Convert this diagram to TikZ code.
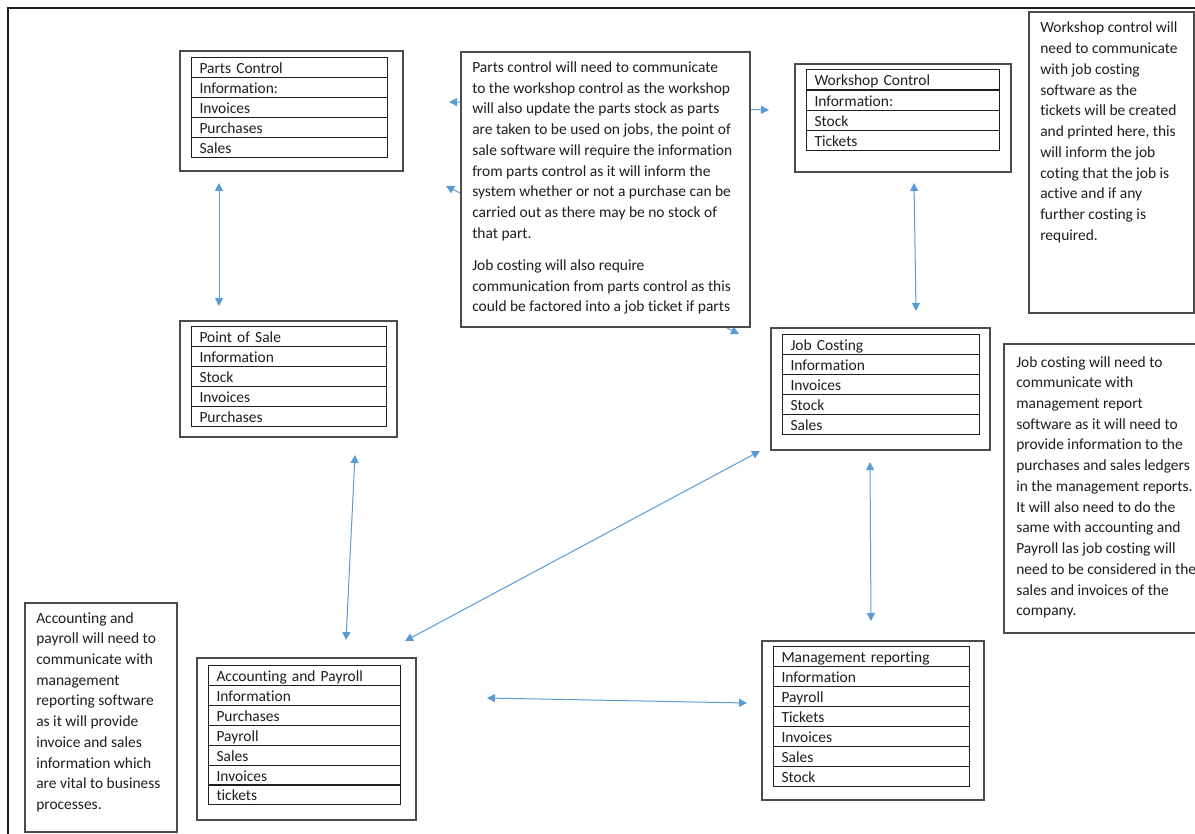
\documentclass[tikz,border=0pt]{standalone}
\usepackage{fontspec}
\setmainfont{Carlito}[Ligatures=CommonOff]
\usetikzlibrary{arrows.meta}
\definecolor{linkblue}{HTML}{5B9BD5}
\definecolor{ink}{HTML}{1E1E1E}

\begin{document}
\begin{tikzpicture}[x=0.75pt, y=-0.75pt,
  every node/.style={text=ink, font=\fontsize{11.6}{15.56}\selectfont},
  panel/.style={draw=ink!80, line width=0.95pt, fill=white, inner sep=0pt},
  cell/.style={draw=ink, line width=0.75pt, inner xsep=6pt, inner ysep=0pt,
    text width=#1, align=left, minimum height=15pt,
    text height=9.75pt, text depth=0.75pt, anchor=north west},
  notetext/.style={inner sep=0pt, anchor=base west},
  link/.style={draw=linkblue, line width=0.75pt,
    {Triangle[length=6pt,width=6pt]}-{Triangle[length=6pt,width=6pt]}}
]
\useasboundingbox (0,0) rectangle (1195,834);
\clip (0,0) rectangle (1195,834);

% page frame
\draw[line width=2pt, draw=ink] (8,840) -- (8,8) -- (1200,8);

% connector end points
\coordinate (pc-s)  at (219,183);
\coordinate (pos-n) at (219,306);
\coordinate (wc-s)  at (914,183);
\coordinate (jc-n)  at (916,311);
\coordinate (pos-s) at (355,455);
\coordinate (ap-n)  at (346,640);
\coordinate (jc-sw) at (760,451);
\coordinate (ap-ne) at (405,641);
\coordinate (jc-s)  at (870,462);
\coordinate (mr-n)  at (871,621);
\coordinate (ap-e)  at (487,698);
\coordinate (mr-w)  at (747,703);
\coordinate (pc-e)  at (449,102);
\coordinate (wc-w)  at (769,110);
\coordinate (pc-se) at (446,186);
\coordinate (jc-nw) at (739,334);

% links that pass behind the central note
\draw[link] (pc-e) -- (wc-w);
\draw[link] (pc-se) -- (jc-nw);

% central note
\node[panel, minimum width=289*0.75pt, minimum height=275*0.75pt] (midnote) at (605.5,189.5) {};
\node[notetext] (midtext) at (472,72.5) {\parbox[t]{300pt}{%
Parts control will need to communicate\\
to the workshop control as the workshop\\
will also update the parts stock as parts\\
are taken to be used on jobs, the point of\\
sale software will require the information\\
from parts control as it will inform the\\
system whether or not a purchase can be\\
carried out as there may be no stock of\\
that part.\\[8.4pt]
Job costing will also require\\
communication from parts control as this\\
could be factored into a job ticket if parts}};

% Parts Control
\node[panel, minimum width=223*0.75pt, minimum height=120*0.75pt] (pc) at (291.5,111) {};
\foreach \lbl [count=\i] in {Parts Control, Information:, Invoices, Purchases, Sales}
  \node[cell=135pt] (pc\i) at (191, {57+20*(\i-1)}) {\lbl};

% Workshop Control
\node[panel, minimum width=216*0.75pt, minimum height=108*0.75pt] (wc) at (903,118) {};
\foreach \lbl [count=\i] in {Workshop Control, Information:, Stock, Tickets}
  \node[cell=132.75pt] (wc\i) at (806, {69.5+20.25*(\i-1)}) {\lbl};

% Point of Sale
\node[panel, minimum width=217*0.75pt, minimum height=116*0.75pt] (pos) at (288.5,379) {};
\foreach \lbl [count=\i] in {Point of Sale, Information, Stock, Invoices, Purchases}
  \node[cell=134.25pt] (pos\i) at (191, {326+20*(\i-1)}) {\lbl};

% Job Costing
\node[panel, minimum width=219*0.75pt, minimum height=122*0.75pt] (jc) at (880.5,389) {};
\foreach \lbl [count=\i] in {Job Costing, Information, Invoices, Stock, Sales}
  \node[cell=135.75pt] (jc\i) at (782, {334+20*(\i-1)}) {\lbl};

% Accounting and Payroll
\node[panel, minimum width=219*0.75pt, minimum height=162*0.75pt] (ap) at (306.5,739) {};
\foreach \lbl [count=\i] in {Accounting and Payroll, Information, Purchases, Payroll, Sales, Invoices, tickets}
  \node[cell=132pt] (ap\i) at (208, {665+19.9*(\i-1)}) {\lbl};

% Management reporting
\node[panel, minimum width=222*0.75pt, minimum height=159*0.75pt] (mr) at (873,720.5) {};
\foreach \lbl [count=\i] in {Management reporting, Information, Payroll, Tickets, Invoices, Sales, Stock}
  \node[cell=135pt] (mr\i) at (773, {646+20*(\i-1)}) {\lbl};

% side notes
\node[panel, minimum width=165*0.75pt, minimum height=301*0.75pt] (wnote) at (1111.5,162.5) {};
\node[notetext] (wtext) at (1040,33) {\parbox[t]{200pt}{%
Workshop control will\\
need to communicate\\
with job costing\\
software as the\\
tickets will be created\\
and printed here, this\\
will inform the job\\
coting that the job is\\
active and if any\\
further costing is\\
required.}};

\node[panel, minimum width=216*0.75pt, minimum height=289*0.75pt] (jnote) at (1112,488.5) {};
\node[notetext] (jtext) at (1016,367) {\parbox[t]{200pt}{%
Job costing will need to\\
communicate with\\
management report\\
software as it will need to\\
provide information to the\\
purchases and sales ledgers\\
in the management reports.\\
It will also need to do the\\
same with accounting and\\
Payroll las job costing will\\
need to be considered in the\\
sales and invoices of the\\
company.}};

\node[panel, minimum width=152*0.75pt, minimum height=229*0.75pt] (anote) at (101,717.5) {};
\node[notetext] (atext) at (36,623) {\parbox[t]{200pt}{%
Accounting and\\
payroll will need to\\
communicate with\\
management\\
reporting software\\
as it will provide\\
invoice and sales\\
information which\\
are vital to business\\
processes.}};

% links between the systems
\draw[link] (pc-s) -- (pos-n);
\draw[link] (wc-s) -- (jc-n);
\draw[link] (pos-s) -- (ap-n);
\draw[link] (jc-sw) -- (ap-ne);
\draw[link] (jc-s) -- (mr-n);
\draw[link] (ap-e) -- (mr-w);
\end{tikzpicture}
\end{document}
